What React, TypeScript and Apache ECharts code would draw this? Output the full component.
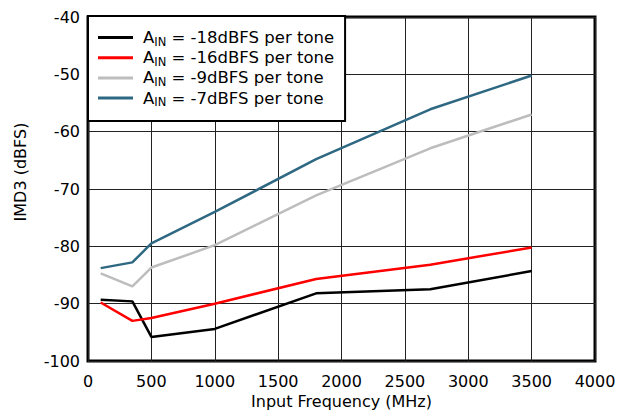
import React, { useEffect, useRef } from "react";
import * as echarts from "echarts";

const freqs = [100, 350, 500, 1000, 1800, 2700, 3500];
const ain18 = [-89.3, -89.6, -95.8, -94.4, -88.2, -87.5, -84.3];
const ain16 = [-89.8, -93.0, -92.5, -90.0, -85.7, -83.2, -80.2];
const ain9 = [-84.7, -87.0, -83.7, -79.8, -71.1, -62.9, -57.0];
const ain7 = [-83.8, -82.8, -79.5, -74.0, -64.8, -56.1, -50.2];

const seriesNames = ["-18dBFS", "-16dBFS", "-9dBFS", "-7dBFS"];
const seriesColors = ["#000000", "#ff0000", "#bdbdbd", "#2f6882"];
const seriesValues = [ain18, ain16, ain9, ain7];

const FONT = "'DejaVu Sans', 'Liberation Sans', Arial, sans-serif";
const FS = 16;

export default function App() {
  const ref = useRef<HTMLDivElement>(null);
  useEffect(() => {
    if (!ref.current) return;
    const chart = echarts.init(ref.current, null, { renderer: "svg" });
    chart.setOption({
      animation: false,
      textStyle: { fontFamily: FONT, color: "#000" },
      grid: {
        left: 88,
        right: 31,
        top: 17,
        bottom: 51,
        outerBoundsMode: "none",
        containLabel: false,
        show: true,
        borderColor: "#000",
        borderWidth: 3,
        backgroundColor: "#fff",
      },
      xAxis: {
        type: "value",
        min: 0,
        max: 4000,
        interval: 500,
        name: "Input Frequency (MHz)",
        nameLocation: "middle",
        nameGap: 30,
        nameTextStyle: { fontSize: FS, color: "#000", fontFamily: FONT },
        axisLine: { show: false },
        axisTick: { show: false },
        axisLabel: {
          fontSize: FS,
          color: "#000",
          margin: 12,
          fontFamily: FONT,
          formatter: (v: number) => String(v),
        },
        splitLine: { show: true, lineStyle: { color: "#222", width: 1 } },
      },
      yAxis: {
        type: "value",
        min: -100,
        max: -40,
        interval: 10,
        axisLine: { show: false },
        axisTick: { show: false },
        axisLabel: {
          fontSize: FS,
          color: "#000",
          margin: 8,
          fontFamily: FONT,
          formatter: (v: number) => String(v),
        },
        splitLine: { show: true, lineStyle: { color: "#222", width: 1 } },
      },
      graphic: [
        {
          type: "text",
          x: 20,
          y: 172,
          rotation: Math.PI / 2,
          style: {
            text: "IMD3 (dBFS)",
            fontSize: FS,
            fontFamily: FONT,
            fill: "#000",
            align: "center",
            verticalAlign: "middle",
          },
        },
      ],
      legend: {
        orient: "vertical",
        left: 88,
        top: 16,
        padding: [13, 11, 13, 10],
        itemGap: 1.7,
        itemWidth: 35,
        itemHeight: 3,
        icon: "rect",
        backgroundColor: "#fff",
        borderColor: "#000",
        borderWidth: 2,
        data: seriesNames,
        formatter: (name: string) => `{a0|A}{sub|IN}{a| = ${name} per tone}`,
        textStyle: {
          fontFamily: FONT,
          color: "#000",
          rich: {
            a0: { fontSize: 16.5, lineHeight: 20, fontFamily: FONT, padding: [0, 0, 0, 5] },
            a: { fontSize: 16.5, lineHeight: 20, fontFamily: FONT },
            sub: { fontSize: 11.5, lineHeight: 12, fontFamily: FONT, verticalAlign: "bottom" },
          },
        },
      },
      series: seriesValues.map((vals, i) => ({
        name: seriesNames[i],
        type: "line",
        data: freqs.map((f, j) => [f, vals[j]]),
        showSymbol: false,
        symbol: "none",
        lineStyle: { color: seriesColors[i], width: 2.5 },
        itemStyle: { color: seriesColors[i] },
        z: 3,
      })),
    });
    return () => chart.dispose();
  }, []);
  return <div ref={ref} style={{ width: 626, height: 412, position: "absolute", left: 0, top: 0 }} />;
}
